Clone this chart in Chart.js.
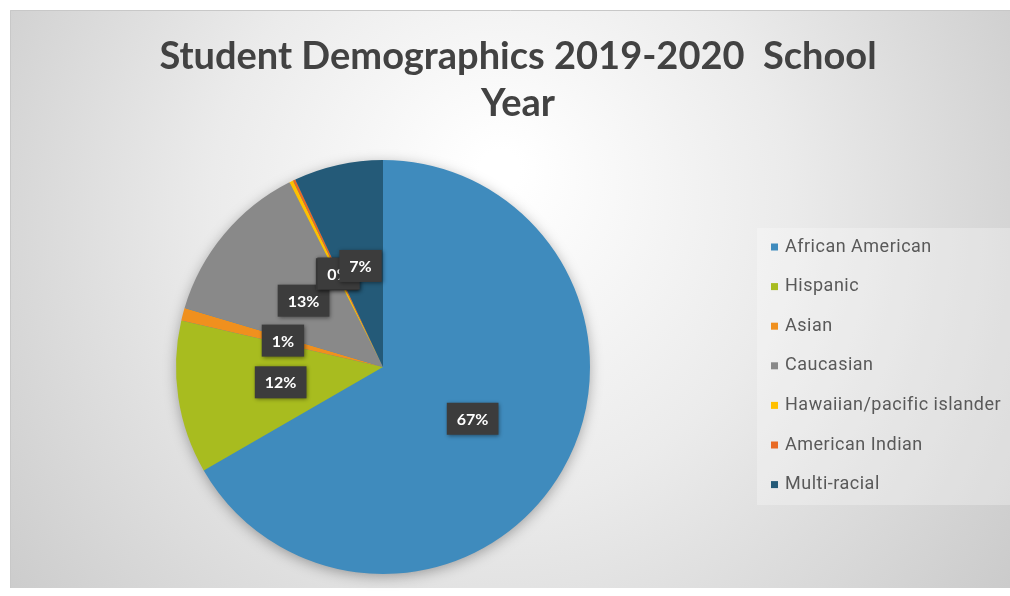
<!DOCTYPE html>
<html>
<head>
<meta charset="utf-8">
<script src="https://cdn.jsdelivr.net/npm/chart.js@4/dist/chart.umd.min.js"></script>
<style>
  html, body { margin: 0; padding: 0; background: #ffffff; }
  #wrap { width: 1010px; height: 596px; }
</style>
</head>
<body>
<div id="wrap"><canvas id="chart" width="1010" height="596"></canvas></div>
<script>
// Student groups and their share of enrollment (percent)
const categories = [
  'African American',
  'Hispanic',
  'Asian',
  'Caucasian',
  'Hawaiian/pacific islander',
  'American Indian',
  'Multi-racial'
];
const shares = [67, 12, 1, 13, 0.3, 0.2, 7];
const sliceColors = ['#3f8bbd', '#a8bc1f', '#f0901e', '#898989', '#ffc000', '#e86a24', '#245a78'];
const titleLines = ['Student Demographics 2019-2020  School', 'Year'];

const FRAME = { x: 10, y: 10, w: 1000, h: 578 };

const decor = {
  id: 'decor',
  beforeDraw(chart) {
    const ctx = chart.ctx;
    ctx.save();
    ctx.fillStyle = '#ffffff';
    ctx.fillRect(0, 0, chart.width, chart.height);
    // soft radial backdrop, bright near the top centre, greyer towards the edges
    const g = ctx.createRadialGradient(500, 170, 20, 500, 250, 620);
    g.addColorStop(0, '#ffffff');
    g.addColorStop(0.45, '#ebebeb');
    g.addColorStop(1, '#cacaca');
    ctx.fillStyle = g;
    ctx.fillRect(FRAME.x, FRAME.y, FRAME.w, FRAME.h);
    ctx.strokeStyle = '#c8c8c8';
    ctx.lineWidth = 1;
    ctx.beginPath();
    ctx.moveTo(FRAME.x + 0.5, FRAME.y + FRAME.h);
    ctx.lineTo(FRAME.x + 0.5, FRAME.y + 0.5);
    ctx.lineTo(FRAME.x + FRAME.w, FRAME.y + 0.5);
    ctx.stroke();
    ctx.restore();
  },
  beforeDatasetsDraw(chart) {
    // shadow under the whole pie
    const arc = chart.getDatasetMeta(0).data[0];
    if (!arc) return;
    const ctx = chart.ctx;
    ctx.save();
    ctx.shadowColor = 'rgba(0,0,0,0.35)';
    ctx.shadowBlur = 14;
    ctx.shadowOffsetY = 3;
    ctx.fillStyle = '#3f8bbd';
    ctx.beginPath();
    ctx.arc(arc.x, arc.y, arc.outerRadius - 1, 0, Math.PI * 2);
    ctx.fill();
    ctx.restore();
  },
  afterDatasetsDraw(chart) {
    const ctx = chart.ctx;
    const meta = chart.getDatasetMeta(0);
    const values = chart.data.datasets[0].data;
    const total = values.reduce((a, b) => a + b, 0);
    ctx.save();
    ctx.font = 'bold 16px "Lato", "Liberation Sans", sans-serif';
    ctx.textAlign = 'center';
    ctx.textBaseline = 'middle';
    meta.data.forEach((el, i) => {
      const mid = (el.startAngle + el.endAngle) / 2;
      const r = el.outerRadius * 0.5;
      const cx = el.x + Math.cos(mid) * r;
      const cy = el.y + Math.sin(mid) * r;
      const text = Math.round(values[i] / total * 100) + '%';
      const w = ctx.measureText(text).width + 20;
      const h = 32;
      ctx.save();
      ctx.shadowColor = 'rgba(0,0,0,0.45)';
      ctx.shadowBlur = 4;
      ctx.shadowOffsetX = 1;
      ctx.shadowOffsetY = 1;
      ctx.fillStyle = '#3c3c3c';
      ctx.fillRect(cx - w / 2, cy - h / 2, w, h);
      ctx.restore();
      ctx.fillStyle = '#ffffff';
      ctx.fillText(text, cx, cy + 1);
    });
    ctx.restore();
  },
  afterDraw(chart) {
    const ctx = chart.ctx;
    ctx.save();
    // title
    ctx.fillStyle = '#424242';
    ctx.font = 'bold 38px "Lato", "Liberation Sans", sans-serif';
    ctx.textAlign = 'center';
    ctx.textBaseline = 'middle';
    ctx.fillText(titleLines[0], 518, 57);
    ctx.fillText(titleLines[1], 518, 104);

    // legend panel
    ctx.fillStyle = 'rgba(255,255,255,0.28)';
    ctx.fillRect(757, 228, 253, 277);
    const colors = chart.data.datasets[0].backgroundColor;
    ctx.font = '18px "Roboto", "DejaVu Sans", sans-serif';
    ctx.letterSpacing = '0.5px';
    ctx.textAlign = 'left';
    ctx.textBaseline = 'middle';
    chart.data.labels.forEach((lab, i) => {
      const y = 247 + i * 39.6;
      ctx.fillStyle = colors[i];
      ctx.fillRect(771, y - 3.5, 7, 7);
      ctx.fillStyle = '#595959';
      ctx.fillText(lab, 785, y);
    });
    ctx.restore();
  }
};

new Chart(document.getElementById('chart'), {
  type: 'pie',
  data: {
    labels: categories,
    datasets: [{
      data: shares,
      backgroundColor: sliceColors,
      borderWidth: 0
    }]
  },
  options: {
    responsive: false,
    animation: false,
    devicePixelRatio: 1,
    layout: { padding: { top: 160, bottom: 22, left: 176, right: 420 } },
    plugins: {
      legend: { display: false },
      tooltip: { enabled: false },
      title: { display: false }
    }
  },
  plugins: [decor]
});
</script>
</body>
</html>
